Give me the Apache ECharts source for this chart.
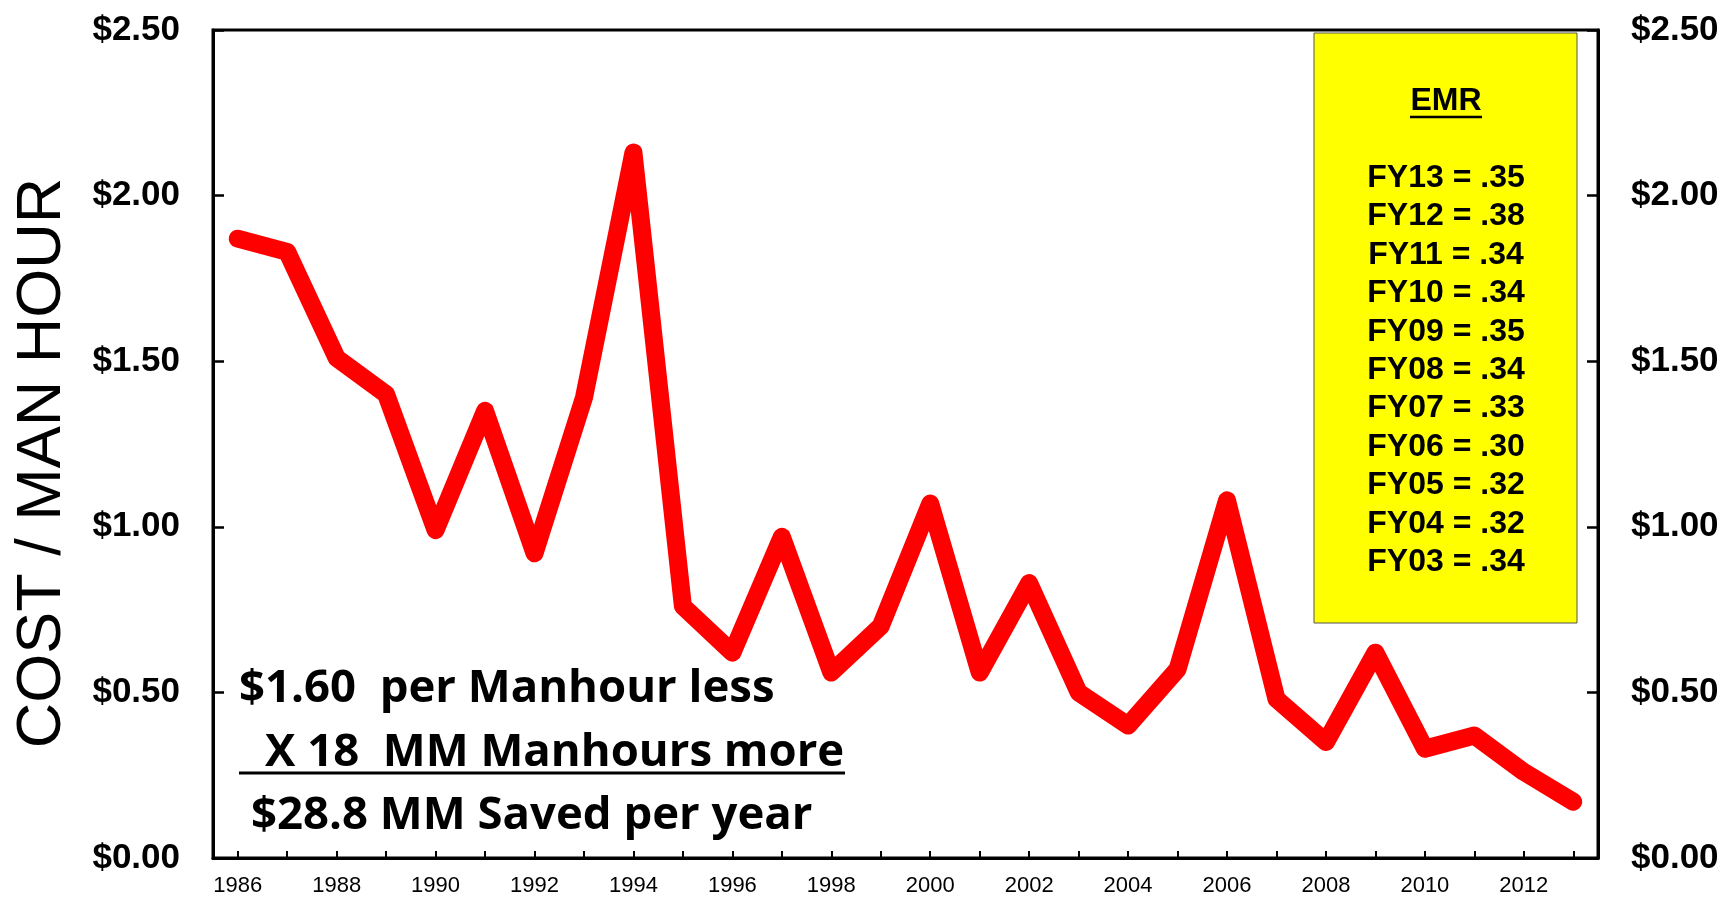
<!DOCTYPE html>
<html><head><meta charset="utf-8">
<script src="https://cdn.jsdelivr.net/npm/echarts@6/dist/echarts.min.js"></script>
<style>html,body{margin:0;padding:0;background:#fff}#c{width:1729px;height:897px}</style>
</head><body><div id="c"></div>
<script>
const years = ['1986','1987','1988','1989','1990','1991','1992','1993','1994','1995','1996','1997','1998','1999','2000','2001','2002','2003','2004','2005','2006','2007','2008','2009','2010','2011','2012','2013'];
const costPerManHour = [1.87,1.83,1.51,1.40,0.99,1.35,0.92,1.39,2.13,0.76,0.62,0.97,0.56,0.70,1.07,0.56,0.83,0.50,0.40,0.57,1.08,0.48,0.35,0.62,0.33,0.37,0.26,0.17];
const yAxisTitle = 'COST / MAN HOUR';
const boxTitle = 'EMR';
const emrLabels = ['FY13','FY12','FY11','FY10','FY09','FY08','FY07','FY06','FY05','FY04','FY03'];
const emrValues = ['.35','.38','.34','.34','.35','.34','.33','.30','.32','.32','.34'];
const noteLines = ['$1.60  per Manhour less','X 18  MM Manhours more','$28.8 MM Saved per year'];

const chart = echarts.init(document.getElementById('c'));
const fmt = v => '$' + v.toFixed(2);
const yAxisCommon = {
  type: 'value', min: 0, max: 2.5, interval: 0.5,
  splitLine: {show: false},
  axisLine: {show: true, lineStyle: {color: '#000', width: 3}},
  axisTick: {show: true, inside: true, length: 11, lineStyle: {color: '#000', width: 2.5}},
  axisLabel: {formatter: fmt, color: '#000', fontSize: 35, fontWeight: 'bold', fontFamily: 'Liberation Sans, Arial, sans-serif', margin: 33}
};
const emrText = emrLabels.map((l, i) => l + ' = ' + emrValues[i]).join('\n');
const noteFont = {fontFamily: 'Open Sans, sans-serif', fontWeight: 'bold', fontSize: 45.5, fill: '#000'};

chart.setOption({
  animation: false,
  backgroundColor: '#fff',
  grid: {left: 213, right: 131, top: 30, bottom: 39, show: true, borderColor: '#000', borderWidth: 3},
  xAxis: {
    type: 'category', data: years, boundaryGap: true,
    axisLine: {lineStyle: {color: '#000', width: 3}},
    axisTick: {show: true, inside: true, alignWithLabel: true, interval: 0, length: 7, lineStyle: {color: '#000', width: 2}},
    axisLabel: {interval: 1, color: '#000', fontSize: 22, fontFamily: 'Liberation Sans, Arial, sans-serif', margin: 17}
  },
  yAxis: [
    Object.assign({position: 'left'}, yAxisCommon),
    Object.assign({position: 'right'}, yAxisCommon)
  ],
  series: [{
    type: 'line', data: costPerManHour, yAxisIndex: 0,
    symbol: 'none', silent: true,
    lineStyle: {color: '#ff0000', width: 18, cap: 'round', join: 'round'}
  }],
  graphic: [
    {type: 'text', x: 43, y: 463, rotation: Math.PI / 2,
     style: {text: yAxisTitle, fontSize: 63, fontFamily: 'Liberation Sans, Arial, sans-serif', fill: '#000', align: 'center', verticalAlign: 'middle'}},
    {type: 'rect', shape: {x: 1314, y: 33, width: 263, height: 590},
     style: {fill: '#ffff00', stroke: '#555', lineWidth: 1}},
    {type: 'text', x: 1446, y: 101,
     style: {text: boxTitle, fontSize: 32, fontWeight: 'bold', fontFamily: 'Liberation Sans, Arial, sans-serif', fill: '#000', align: 'center', verticalAlign: 'middle'}},
    {type: 'line', shape: {x1: 1410, y1: 117, x2: 1482, y2: 117}, style: {stroke: '#000', lineWidth: 2.5}},
    {type: 'text', x: 1446, y: 159,
     style: {text: emrText, fontSize: 32, lineHeight: 38.4, fontWeight: 'bold', fontFamily: 'Liberation Sans, Arial, sans-serif', fill: '#000', align: 'center', verticalAlign: 'top'}},
    {type: 'text', x: 239, y: 689, style: Object.assign({text: noteLines[0], align: 'left', verticalAlign: 'middle'}, noteFont)},
    {type: 'text', x: 265, y: 753, style: Object.assign({text: noteLines[1], align: 'left', verticalAlign: 'middle'}, noteFont)},
    {type: 'line', shape: {x1: 239, y1: 773, x2: 845, y2: 773}, style: {stroke: '#000', lineWidth: 3}},
    {type: 'text', x: 251, y: 816, style: Object.assign({text: noteLines[2], align: 'left', verticalAlign: 'middle'}, noteFont)}
  ]
});
</script>
</body></html>
